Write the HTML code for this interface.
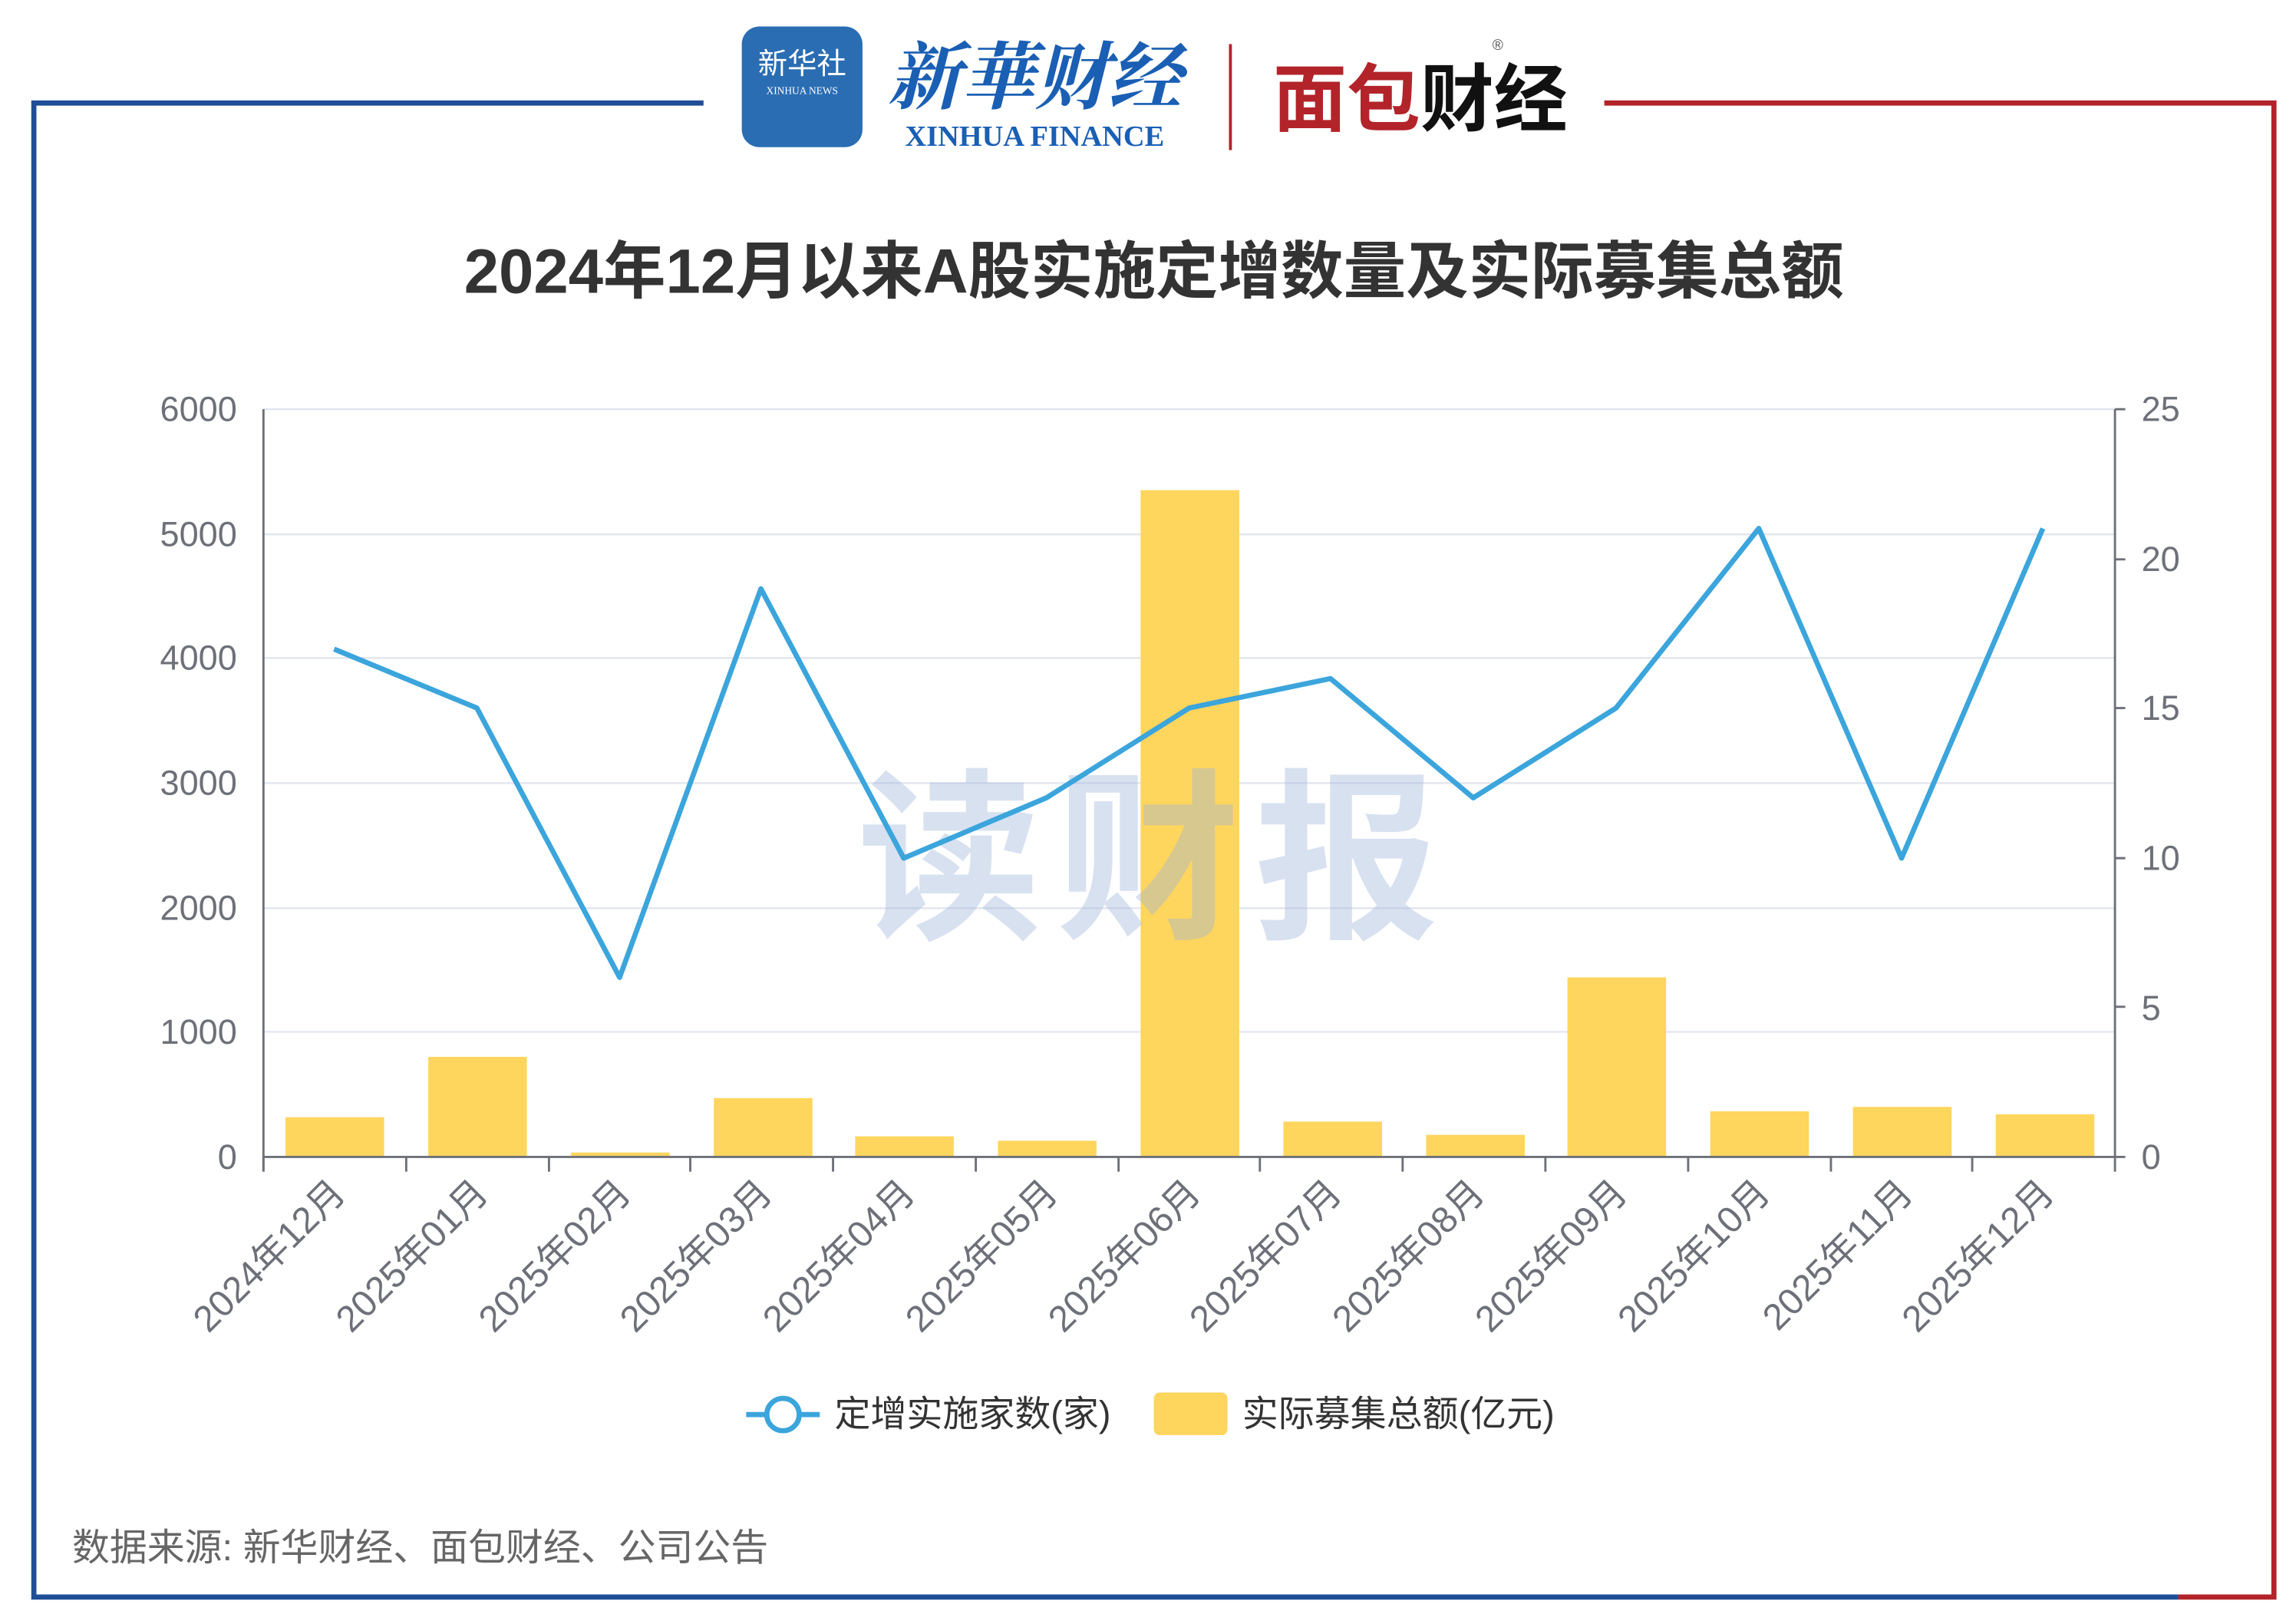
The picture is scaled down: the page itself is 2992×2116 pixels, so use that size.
<!DOCTYPE html>
<html><head><meta charset="utf-8"><style>html,body{margin:0;padding:0;background:#fff}svg{display:block}</style></head>
<body>
<svg width="2992" height="2116" viewBox="0 0 1560 1103.3" preserveAspectRatio="none" xmlns="http://www.w3.org/2000/svg" font-family="Liberation Sans, Noto Sans CJK SC, sans-serif">
<rect width="1560" height="1104" fill="#fff"/>
<path d="M478 70 H23 V1085 H1480" stroke="#1f4e96" stroke-width="3.5" fill="none"/>
<path d="M1090 70 H1545 V1085 H1480" stroke="#b3232a" stroke-width="3.5" fill="none"/>
<rect x="504" y="18" width="82" height="82" rx="12" fill="#2a6db3"/>
<text x="545" y="50" font-size="20" fill="#fff" text-anchor="middle">新华社</text>
<text x="545" y="64" font-size="7" fill="#fff" text-anchor="middle" font-family="Liberation Serif, serif">XINHUA NEWS</text>
<text x="703" y="70" font-size="50" fill="#1a5fb4" text-anchor="middle" font-family="Liberation Serif, Noto Serif CJK SC, serif" font-style="italic" font-weight="bold">新華财经</text>
<text x="703" y="99" font-size="20" fill="#1a5fb4" text-anchor="middle" font-family="Liberation Serif, serif" font-weight="bold">XINHUA FINANCE</text>
<line x1="836" y1="30" x2="836" y2="102" stroke="#b3232a" stroke-width="2"/>
<text x="865" y="85" font-size="50" fill="#b3232a" font-weight="bold">面包</text>
<text x="965" y="85" font-size="50" fill="#111" font-weight="bold">财经</text>
<text x="1014" y="34" font-size="10" fill="#555">®</text>
<text x="784" y="199" font-size="42.5" fill="#333" font-weight="bold" text-anchor="middle">2024年12月以来A股实施定增数量及实际募集总额</text>
<g stroke="#e3e6ef" stroke-width="1.3">
<line x1="179" y1="278" x2="1437" y2="278"/><line x1="179" y1="363" x2="1437" y2="363"/><line x1="179" y1="447" x2="1437" y2="447"/><line x1="179" y1="532" x2="1437" y2="532"/><line x1="179" y1="617" x2="1437" y2="617"/><line x1="179" y1="701" x2="1437" y2="701"/>
</g>
<g font-size="23.5" fill="#6e7079" text-anchor="end">
<text x="161" y="286">6000</text><text x="161" y="371">5000</text><text x="161" y="455">4000</text><text x="161" y="540">3000</text><text x="161" y="625">2000</text><text x="161" y="709">1000</text><text x="161" y="794">0</text>
</g>
<g font-size="23.5" fill="#6e7079">
<text x="1455" y="286">25</text><text x="1455" y="388">20</text><text x="1455" y="489">15</text><text x="1455" y="591">10</text><text x="1455" y="693">5</text><text x="1455" y="794">0</text>
</g>
<g fill="#fed55d">
<rect x="194" y="759" width="67" height="27"/>
<rect x="291" y="718" width="67" height="68"/>
<rect x="388" y="783" width="67" height="3"/>
<rect x="485" y="746" width="67" height="40"/>
<rect x="581" y="772" width="67" height="14"/>
<rect x="678" y="775" width="67" height="11"/>
<rect x="775" y="333" width="67" height="453"/>
<rect x="872" y="762" width="67" height="24"/>
<rect x="969" y="771" width="67" height="15"/>
<rect x="1065" y="664" width="67" height="122"/>
<rect x="1162" y="755" width="67" height="31"/>
<rect x="1259" y="752" width="67" height="34"/>
<rect x="1356" y="757" width="67" height="29"/>
</g>
<text x="785" y="628" font-size="125" font-weight="bold" fill="#9fb5dc" opacity="0.4" text-anchor="middle" letter-spacing="10">读财报</text>
<g stroke="#6e7079" stroke-width="1.5" fill="none">
<line x1="179" y1="278" x2="179" y2="796"/>
<line x1="1437" y1="278" x2="1437" y2="786"/>
<line x1="179" y1="786" x2="1437" y2="786"/>
<path d="M179 786v10M276 786v10M373 786v10M469 786v10M566 786v10M663 786v10M760 786v10M856 786v10M953 786v10M1050 786v10M1147 786v10M1244 786v10M1340 786v10M1437 786v10"/>
<path d="M1437 278h7M1437 380h7M1437 481h7M1437 583h7M1437 684h7M1437 786h7"/>
</g>
<polyline fill="none" stroke="#3ba5dc" stroke-width="3.5" stroke-linejoin="round" points="227,441 324,481 421,664 517,400 614,583 711,542 808,481 904,461 1001,542 1098,481 1195,359 1292,583 1388,359"/>
<g font-size="25" fill="#6e7079" text-anchor="end">
<text transform="translate(236,812) rotate(-45)">2024年12月</text>
<text transform="translate(333,812) rotate(-45)">2025年01月</text>
<text transform="translate(430,812) rotate(-45)">2025年02月</text>
<text transform="translate(526,812) rotate(-45)">2025年03月</text>
<text transform="translate(623,812) rotate(-45)">2025年04月</text>
<text transform="translate(720,812) rotate(-45)">2025年05月</text>
<text transform="translate(817,812) rotate(-45)">2025年06月</text>
<text transform="translate(913,812) rotate(-45)">2025年07月</text>
<text transform="translate(1010,812) rotate(-45)">2025年08月</text>
<text transform="translate(1107,812) rotate(-45)">2025年09月</text>
<text transform="translate(1204,812) rotate(-45)">2025年10月</text>
<text transform="translate(1301,812) rotate(-45)">2025年11月</text>
<text transform="translate(1397,812) rotate(-45)">2025年12月</text>
</g>
<line x1="507" y1="961" x2="557" y2="961" stroke="#3ba5dc" stroke-width="3.5"/>
<circle cx="532" cy="961" r="11" fill="#fff" stroke="#3ba5dc" stroke-width="3.5"/>
<text x="567" y="969" font-size="24.5" fill="#333">定增实施家数(家)</text>
<rect x="784" y="946" width="50" height="29" rx="4" fill="#fed55d"/>
<text x="844" y="969" font-size="24.5" fill="#333">实际募集总额(亿元)</text>
<text x="49" y="1060" font-size="25.5" fill="#666">数据来源: 新华财经、面包财经、公司公告</text>
</svg>
</body></html>
